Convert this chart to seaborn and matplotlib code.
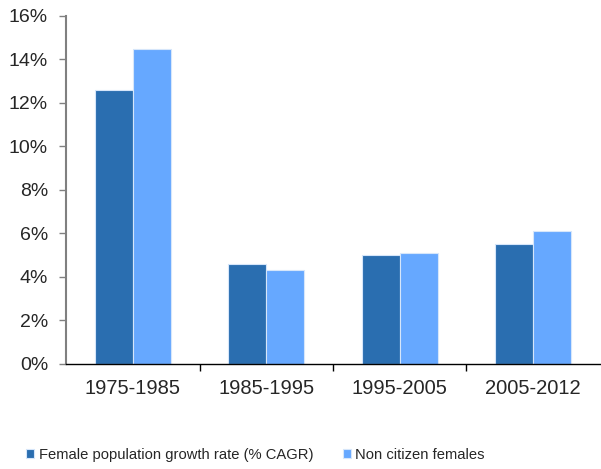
import numpy as np
import pandas as pd
import matplotlib
matplotlib.use('Agg')
import matplotlib.pyplot as plt
import seaborn as sns
from matplotlib.ticker import FuncFormatter, FixedLocator

periods = ['1975-1985', '1985-1995', '1995-2005', '2005-2012']
female_growth = [12.6, 4.6, 5.0, 5.5]
non_citizen = [14.5, 4.3, 5.1, 6.1]
series_names = ['Female population growth rate (% CAGR)', 'Non citizen females']

df = pd.DataFrame({
    'period': periods * 2,
    'value': female_growth + non_citizen,
    'series': [series_names[0]] * 4 + [series_names[1]] * 4,
})

sns.set_style('white')
plt.rcParams['font.family'] = ['Liberation Sans', 'DejaVu Sans']

fig = plt.figure(figsize=(6.01, 4.69), dpi=100)
ax = fig.add_axes([0.11, 0.224, 0.888, 0.742])

palette = ['#2A6EB0', '#66A8FF']
sns.barplot(data=df, x='period', y='value', hue='series', palette=palette,
            width=0.57, edgecolor='#D6E6FA', linewidth=0.8, saturation=1,
            ax=ax, legend=True)

ax.set_ylim(0, 16)
ax.set_xlim(-0.5, 3.5)
ax.yaxis.set_major_locator(FixedLocator(np.arange(0, 17, 2)))
ax.yaxis.set_major_formatter(FuncFormatter(lambda v, p: f'{v:.0f}%'))
ax.set_xlabel('')
ax.set_ylabel('')

for s in ['top', 'right']:
    ax.spines[s].set_visible(False)
ax.spines['left'].set_color('#808080')
ax.spines['left'].set_linewidth(1.5)
ax.spines['bottom'].set_color('black')
ax.spines['bottom'].set_linewidth(1)

ax.tick_params(axis='y', which='major', left=True, length=5, width=1,
               color='#808080', labelsize=14, pad=8)
ax.tick_params(axis='x', which='major', bottom=False, labelsize=14.5, pad=7)
ax.xaxis.set_minor_locator(FixedLocator([0.5, 1.5, 2.5]))
ax.tick_params(axis='x', which='minor', bottom=True, length=5, width=1,
               color='black', direction='out')

handles, labels = ax.get_legend_handles_labels()
ax.get_legend().remove()
fig.legend(handles, labels, loc='center', bbox_to_anchor=(0.425, 0.03),
           ncol=2, frameon=False, fontsize=10.6, handlelength=0.55,
           handleheight=0.55, handletextpad=0.3, columnspacing=2.0)

fig.savefig('out.png', dpi=100)
